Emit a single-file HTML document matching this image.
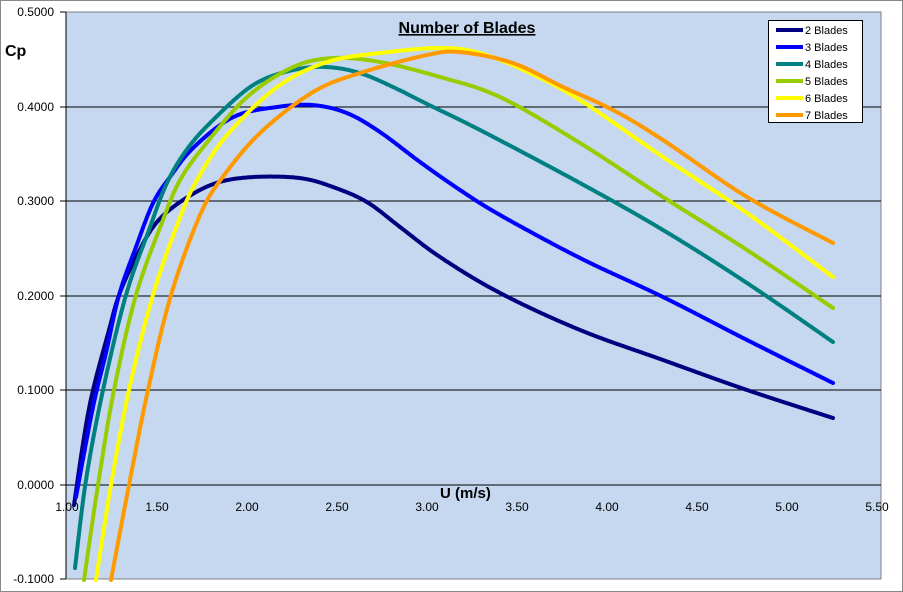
<!DOCTYPE html><html><head><style>body{margin:0;background:#fff}svg{display:block;font-family:"Liberation Sans",sans-serif}</style></head><body>
<svg id="s" width="903" height="592" xmlns="http://www.w3.org/2000/svg">
<rect x="0.5" y="0.5" width="902" height="591" fill="#fff" stroke="#888"/>
<rect x="66" y="12" width="815" height="567" fill="#c5d8ef" stroke="#808080"/>
<g stroke="#000" stroke-width="1">
<line x1="66" y1="107" x2="881" y2="107"/><line x1="66" y1="201" x2="881" y2="201"/>
<line x1="66" y1="296" x2="881" y2="296"/><line x1="66" y1="390" x2="881" y2="390"/>
<line x1="66" y1="485" x2="881" y2="485"/>
<line x1="66" y1="12" x2="66" y2="579"/>
<line x1="60" y1="12" x2="66" y2="12"/><line x1="60" y1="107" x2="66" y2="107"/><line x1="60" y1="201" x2="66" y2="201"/><line x1="60" y1="296" x2="66" y2="296"/><line x1="60" y1="390" x2="66" y2="390"/><line x1="60" y1="485" x2="66" y2="485"/><line x1="60" y1="579" x2="66" y2="579"/>
</g>
<g font-size="12" text-anchor="end" fill="#000">
<text x="54" y="16">0.5000</text><text x="54" y="111">0.4000</text><text x="54" y="205">0.3000</text><text x="54" y="300">0.2000</text><text x="54" y="394">0.1000</text><text x="54" y="489">0.0000</text><text x="54" y="583">-0.1000</text>
</g>
<g font-size="12" text-anchor="middle" fill="#000">
<text x="67" y="511">1.00</text><text x="157" y="511">1.50</text><text x="247" y="511">2.00</text><text x="337" y="511">2.50</text><text x="427" y="511">3.00</text><text x="517" y="511">3.50</text><text x="607" y="511">4.00</text><text x="697" y="511">4.50</text><text x="787" y="511">5.00</text><text x="877" y="511">5.50</text>
</g>
<text x="5" y="56" font-size="16" font-weight="bold">Cp</text>
<text x="440" y="498" font-size="15" font-weight="bold">U (m/s)</text>
<text x="467" y="33" font-size="16" font-weight="bold" text-anchor="middle" text-decoration="underline">Number of Blades</text>
<g id="curves" fill="none" stroke-width="4" stroke-linecap="round" stroke-linejoin="round"></g>
<rect x="768.5" y="20.5" width="94" height="102" fill="#fff" stroke="#000"/>
<g font-size="11" fill="#000">
<line x1="776" y1="30" x2="803" y2="30" stroke="#000080" stroke-width="4"/><text x="805" y="34">2 Blades</text>
<line x1="776" y1="47" x2="803" y2="47" stroke="#0000ff" stroke-width="4"/><text x="805" y="51">3 Blades</text>
<line x1="776" y1="64" x2="803" y2="64" stroke="#008080" stroke-width="4"/><text x="805" y="68">4 Blades</text>
<line x1="776" y1="81" x2="803" y2="81" stroke="#99cc00" stroke-width="4"/><text x="805" y="85">5 Blades</text>
<line x1="776" y1="98" x2="803" y2="98" stroke="#ffff00" stroke-width="4"/><text x="805" y="102">6 Blades</text>
<line x1="776" y1="115" x2="803" y2="115" stroke="#ff9900" stroke-width="4"/><text x="805" y="119">7 Blades</text>
</g>
</svg>
<script>
var S=[["#000080",[[74,505],[84,437],[93,390],[109,330],[119,295],[136,257],[156,223],[183,200],[216,183],[253,177],[300,178],[333,187],[367,202],[400,227],[440,257],[500,293],[580,330],[663,360],[747,390],[833,418]]],
["#0000ff",[[76,497],[93,407],[106,353],[119,295],[136,247],[153,203],[170,177],[193,148],[233,117],[277,107],[313,105],[347,113],[380,132],[420,162],[460,190],[500,215],[580,258],[663,297],[747,340],[833,383]]],
["#008080",[[75,568],[86,480],[103,390],[126,295],[149,230],[166,185],[185,152],[210,123],[253,85],[293,70],[327,67],[360,73],[393,87],[427,104],[480,130],[580,183],[663,230],[747,283],[833,342]]],
["#99cc00",[[84,580],[98,485],[114,390],[136,295],[163,220],[180,180],[205,145],[247,97],[293,67],[333,58],[380,62],[440,77],[500,97],[580,143],[663,197],[747,250],[833,308]]],
["#ffff00",[[96,580],[111,485],[129,390],[153,295],[179,220],[197,180],[227,135],[277,87],[327,62],[380,53],[440,48],[480,53],[530,73],[580,100],[663,157],[747,213],[833,277]]],
["#ff9900",[[111,580],[129,485],[148,390],[171,295],[200,215],[222,178],[260,133],[313,92],[360,73],[427,55],[460,52],[513,63],[563,87],[613,110],[663,140],[747,197],[833,243]]]];
var g=document.getElementById("curves"),ns="http://www.w3.org/2000/svg";
S.forEach(function(s){var p=s[1],q=[p[0]];
for(var i=0;i<p.length-1;i++){var a=p[Math.max(i-1,0)],b=p[i],c=p[i+1],e=p[Math.min(i+2,p.length-1)];
var c1=[b[0]+(c[0]-a[0])/6,b[1]+(c[1]-a[1])/6],c2=[c[0]-(e[0]-b[0])/6,c[1]-(e[1]-b[1])/6];
var L=Math.hypot(c[0]-b[0],c[1]-b[1]),n=Math.max(2,Math.ceil(L));
for(var k=1;k<=n;k++){var t=k/n,u=1-t;q.push([u*u*u*b[0]+3*u*u*t*c1[0]+3*u*t*t*c2[0]+t*t*t*c[0],u*u*u*b[1]+3*u*u*t*c1[1]+3*u*t*t*c2[1]+t*t*t*c[1]]);}}
var W=8,r=[];for(var j=0;j<q.length;j++){var w=Math.min(W,j,q.length-1-j),sx=0,sy=0;for(var m=-w;m<=w;m++){sx+=q[j+m][0];sy+=q[j+m][1];}r.push([sx/(2*w+1),sy/(2*w+1)]);}
var d="M"+r.map(function(v){return v[0].toFixed(1)+","+v[1].toFixed(1)}).join("L");
var el=document.createElementNS(ns,"path");el.setAttribute("d",d);el.setAttribute("stroke",s[0]);g.appendChild(el);});
</script>
</body></html>
